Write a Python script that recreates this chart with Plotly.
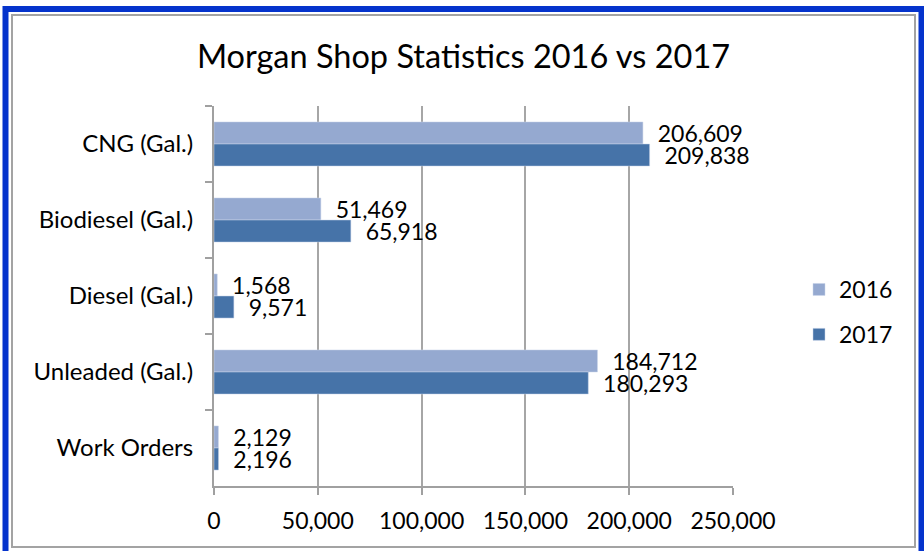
import plotly.graph_objects as go

categories = ["CNG (Gal.)", "Biodiesel (Gal.)", "Diesel (Gal.)", "Unleaded (Gal.)", "Work Orders"]
values_2016 = [206609, 51469, 1568, 184712, 2129]
values_2017 = [209838, 65918, 9571, 180293, 2196]
x_ticks = [0, 50000, 100000, 150000, 200000, 250000]

W, H = 924, 551
L, R, T, B = 214, 191, 106, 65
font = "Lato, 'Open Sans', sans-serif"


def px(x):
    return (x - L) / (W - L - R)


def py(y):
    return (H - B - y) / (H - T - B)


fig = go.Figure()
fig.add_trace(go.Bar(
    name="2016", y=categories, x=values_2016, orientation="h",
    marker=dict(color="#95A9D0", line=dict(color="#C9D4E8", width=0.5)),
    texttemplate="\u00a0\u00a0%{x:,}", textposition="outside",
    constraintext="none", cliponaxis=False, legendgroup="a",
    textfont=dict(size=23, color="black", family=font)))
fig.add_trace(go.Bar(
    name="2017", y=categories, x=values_2017, orientation="h",
    marker=dict(color="#4673A8", line=dict(color="#C9D4E8", width=0.5)),
    texttemplate="\u00a0\u00a0%{x:,}", textposition="outside",
    constraintext="none", cliponaxis=False, legendgroup="b",
    textfont=dict(size=23, color="black", family=font)))

fig.update_layout(
    width=W, height=H,
    margin=dict(l=L, r=R, t=T, b=B),
    paper_bgcolor="white", plot_bgcolor="white",
    font=dict(family=font, size=23, color="black"),
    barmode="group", bargap=0.42, bargroupgap=0,
    title=dict(text="Morgan Shop Statistics 2016 vs 2017", x=463.5 / W, xanchor="center",
               y=1 - 57 / H, yanchor="middle", font=dict(size=32.5, color="black")),
    legend=dict(x=px(799), y=py(268), xanchor="left", yanchor="top",
                font=dict(size=23), tracegroupgap=12, bgcolor="rgba(0,0,0,0)"),
    xaxis=dict(range=[0, 250000], tickvals=x_ticks, tickformat=",",
               showgrid=True, gridcolor="#A6A6A6", gridwidth=1.5,
               showline=True, linecolor="#A0A0A0", linewidth=2,
               ticks="outside", ticklen=7, tickcolor="#A0A0A0", tickwidth=2,
               ticklabelstandoff=6, zeroline=False),
    yaxis=dict(autorange="reversed", showgrid=False, showline=True,
               linecolor="#A0A0A0", linewidth=2, ticks="outside", ticklen=7,
               tickcolor="#A0A0A0", tickwidth=2, tickson="boundaries",
               ticklabelstandoff=14, zeroline=False, tickfont=dict(size=24)),
)

# chart frame: gray inner border and blue outer border
fig.add_shape(type="rect", xref="paper", yref="paper",
              x0=px(12), x1=px(915), y0=py(547), y1=py(15),
              line=dict(color="#A3A3A3", width=2), layer="below")
fig.add_shape(type="rect", xref="paper", yref="paper",
              x0=px(5.5), x1=px(921.5), y0=py(570), y1=py(9),
              line=dict(color="#0533CC", width=6), layer="below")

fig.write_html("out.html", config={"displayModeBar": False},
               post_script="document.body.style.margin='0';")
